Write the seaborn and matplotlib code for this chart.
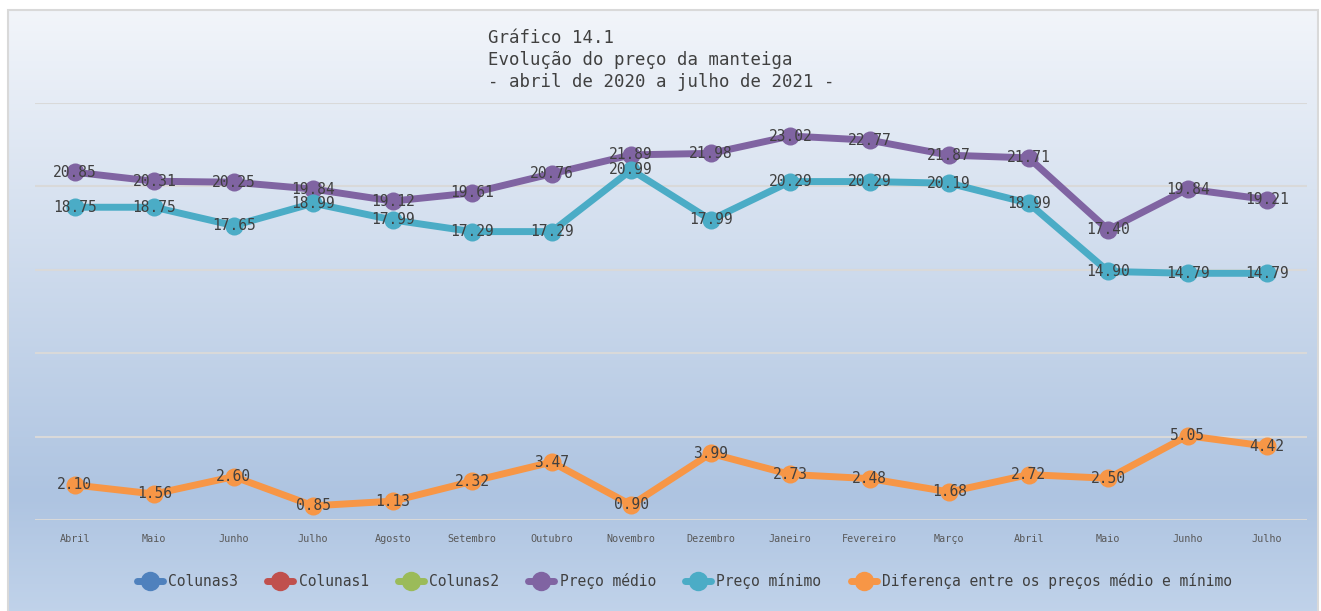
import numpy as np
import pandas as pd
import matplotlib
matplotlib.use("Agg")
import matplotlib.pyplot as plt
from matplotlib.lines import Line2D
from matplotlib.patches import Rectangle
import seaborn as sns

sns.set_theme(style="white")
plt.rcParams['font.family'] = ['DejaVu Sans Mono', 'DejaVu Sans']

# dados
meses = ["Abril", "Maio", "Junho", "Julho", "Agosto", "Setembro", "Outubro",
         "Novembro", "Dezembro", "Janeiro", "Fevereiro", "Março", "Abril",
         "Maio", "Junho", "Julho"]
preco_medio = [20.85, 20.31, 20.25, 19.84, 19.12, 19.61, 20.76, 21.89, 21.98,
               23.02, 22.77, 21.87, 21.71, 17.40, 19.84, 19.21]
preco_minimo = [18.75, 18.75, 17.65, 18.99, 17.99, 17.29, 17.29, 20.99, 17.99,
                20.29, 20.29, 20.19, 18.99, 14.90, 14.79, 14.79]
diferenca = [2.10, 1.56, 2.60, 0.85, 1.13, 2.32, 3.47, 0.90, 3.99, 2.73, 2.48,
             1.68, 2.72, 2.50, 5.05, 4.42]

series = {
    "Preço médio": preco_medio,
    "Preço mínimo": preco_minimo,
    "Diferença entre os preços médio e mínimo": diferenca,
}
cores = {
    "Colunas3": "#4F81BD",
    "Colunas1": "#C0504D",
    "Colunas2": "#9BBB59",
    "Preço médio": "#8064A2",
    "Preço mínimo": "#4BACC6",
    "Diferença entre os preços médio e mínimo": "#F79646",
}

df = pd.concat([pd.DataFrame({"pos": range(len(meses)), "valor": v, "serie": k})
                for k, v in series.items()], ignore_index=True)

fig = plt.figure(figsize=(13.21, 6.11), dpi=100)

# fundo em gradiente
bg = fig.add_axes([0, 0, 1, 1], zorder=-10)
stops_y = np.array([0.0, 0.77, 1.0])
stops_c = np.array([[242, 245, 250], [174, 196, 225], [197, 214, 236]]) / 255
yy = np.linspace(0, 1, 300)
grad = np.stack([np.interp(yy, stops_y, stops_c[:, i]) for i in range(3)], axis=-1)
bg.add_patch(Rectangle((0, 0), 1, 1, facecolor="white", edgecolor="none", zorder=-1))
bg.imshow(grad[:, None, :], aspect="auto", extent=[8 / 1321, 1318 / 1321, -0.05, 1 - 10 / 611],
          origin="upper", zorder=0)
bg.add_patch(Rectangle((8 / 1321, -0.05), 1310 / 1321, 1.05 - 10 / 611, fill=False,
                       edgecolor="#d9d9d9", lw=1.5, zorder=1))
bg.set_xlim(0, 1)
bg.set_ylim(0, 1)
bg.axis("off")

ax = fig.add_axes([35 / 1321, 1 - 520 / 611, 1272 / 1321, 417 / 611])
ax.patch.set_alpha(0)

sns.lineplot(data=df, x="pos", y="valor", hue="serie", palette=cores,
             hue_order=list(series.keys()), marker="o", markersize=13,
             markeredgewidth=0, linewidth=5, ax=ax, legend=False, zorder=3)

for k, v in series.items():
    for i, val in enumerate(v):
        ax.text(i, val, f"{val:.2f}", ha="center", va="center", fontsize=10.5,
                color="#404040", zorder=5)

ax.set_xlim(-0.5, len(meses) - 0.5)
ax.set_ylim(0, 25)
ax.set_yticks([0, 5, 10, 15, 20, 25])
ax.yaxis.grid(True, color="#d9d9d9", lw=1.5)
ax.set_axisbelow(True)
ax.tick_params(axis="y", left=False, labelleft=False)
ax.set_xticks(range(len(meses)))
ax.set_xticklabels(meses, fontsize=7.3, color="#595959")
ax.tick_params(axis="x", bottom=False, length=0, pad=10)
ax.set_xlabel("")
ax.set_ylabel("")
for s in ax.spines.values():
    s.set_visible(False)

fig.text(488 / 1321, 1 - 29 / 611,
         "Gráfico 14.1\nEvolução do preço da manteiga\n- abril de 2020 a julho de 2021 -",
         ha="left", va="top", fontsize=12.5, color="#404040", linespacing=1.3)

handles = [Line2D([0], [0], color=c, lw=5, marker="o", markersize=14,
                  markeredgewidth=0) for c in cores.values()]
fig.legend(handles, list(cores.keys()), loc="center", bbox_to_anchor=(0.518, 1 - 581 / 611),
           ncol=6, frameon=False, fontsize=10.5, handlelength=1.8, handletextpad=0.35,
           columnspacing=2.0, labelcolor="#404040")

fig.savefig("out.png", dpi=100)
